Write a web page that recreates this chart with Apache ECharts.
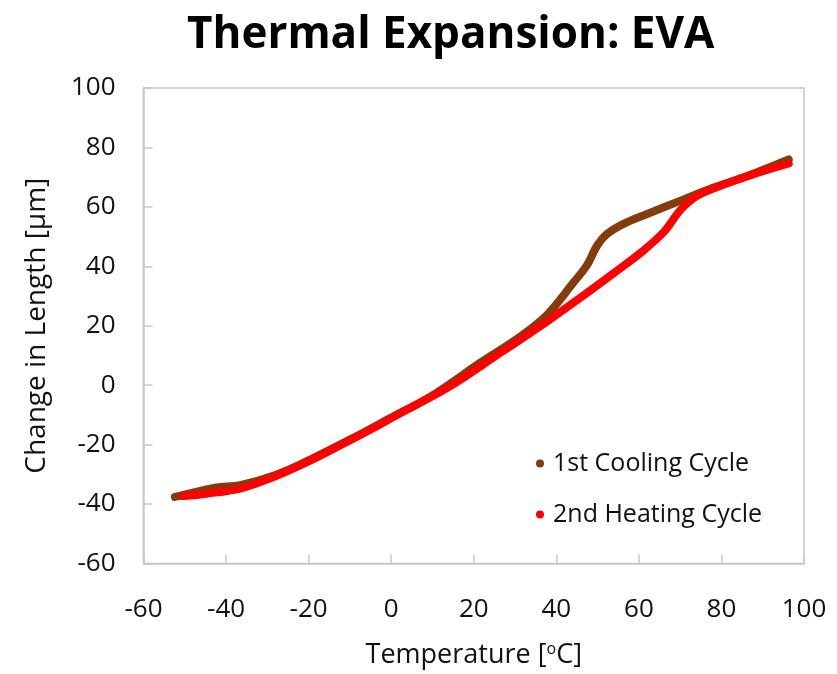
<!DOCTYPE html>
<html>
<head>
<meta charset="utf-8">
<script src="https://cdn.jsdelivr.net/npm/echarts@6/dist/echarts.min.js"></script>
<style>
  html, body { margin: 0; padding: 0; background: #fff; }
  #chart { width: 837px; height: 674px; }
</style>
</head>
<body>
<div id="chart"></div>
<script>
// Dilatometry of EVA: change in sample length vs temperature
const coolingTemp = [-52.4, -47, -42.3, -36.6, -28, -20, -10, 0, 10, 21.6, 31.3, 37.7, 44.2, 47.4, 49.9, 52.3, 56.3, 62.0, 70.1, 78.1, 86.2, 96.3];
const coolingLen  = [-37.6, -35.8, -34.4, -33.6, -30.2, -25.3, -18.3, -10.9, -3.4, 7.6, 16.4, 23.6, 34.6, 40.3, 47.0, 50.9, 54.3, 57.6, 62.1, 66.5, 70.4, 76.0];

const heatingTemp = [-50.4, -44.7, -36.6, -28.5, -20.4, -12.4, -4.3, 1.4, 13.5, 25.6, 37.7, 47.4, 54.5, 60.4, 66.0, 70.1, 74.1, 79.8, 87.8, 96.3];
const heatingLen  = [-37.3, -36.5, -34.8, -30.9, -25.9, -20.3, -14.4, -10.0, -1.0, 10.1, 21.4, 31.0, 38.3, 44.5, 51.5, 59.0, 63.7, 67.1, 71.0, 74.6];

const seriesNames = ['1st Cooling Cycle', '2nd Heating Cycle'];
const seriesColors = ['#843C0C', '#FF0000'];
const axisTicks = [-60, -40, -20, 0, 20, 40, 60, 80, 100];

const pairs = (xs, ys) => xs.map((x, i) => [x, ys[i]]);

const labelFont = '"Open Sans", "Noto Sans", sans-serif';
const chart = echarts.init(document.getElementById('chart'));

const axisCommon = {
  type: 'value',
  min: axisTicks[0],
  max: axisTicks[axisTicks.length - 1],
  interval: 20,
  nameLocation: 'middle',
  axisLine: { show: true, onZero: false, lineStyle: { color: '#c8c8c8', width: 1.5 } },
  axisTick: { show: true, inside: true, length: 9, lineStyle: { color: '#c8c8c8', width: 1.5 } },
  splitLine: { show: false },
  axisLabel: { margin: 28, fontFamily: labelFont, fontSize: 26, color: '#111' }
};

chart.setOption({
  animation: false,
  backgroundColor: '#fff',
  title: {
    text: 'Thermal Expansion: EVA',
    left: 182,
    top: 8,
    textStyle: {
      fontFamily: labelFont,
      fontWeight: 'bold',
      fontSize: 44,
      color: '#000'
    }
  },
  grid: {
    left: 143.5, right: 33, top: 88, bottom: 107,
    show: true, borderColor: '#c8c8c8', borderWidth: 1.5
  },
  legend: {
    data: seriesNames,
    orient: 'vertical',
    left: 531,
    top: 445,
    icon: 'circle',
    itemWidth: 8,
    itemHeight: 8,
    itemGap: 24,
    textStyle: { fontFamily: labelFont, fontSize: 25, lineHeight: 27, color: '#111', padding: [0, 0, 0, 4] }
  },
  xAxis: Object.assign({}, axisCommon, {
    name: 'Temperature [{sup|o}C]',
    nameGap: 92,
    axisLabel: Object.assign({}, axisCommon.axisLabel, { margin: 33 }),
    nameTextStyle: {
      fontFamily: labelFont, fontSize: 27, color: '#111', verticalAlign: 'middle',
      rich: { sup: { fontFamily: labelFont, fontSize: 16, color: '#111', verticalAlign: 'top', padding: [0, 0, 12, 0] } }
    }
  }),
  yAxis: Object.assign({}, axisCommon, {
    name: 'Change in Length [µm]',
    nameGap: 92,
    nameTextStyle: { fontFamily: labelFont, fontSize: 28, color: '#111' }
  }),
  series: [
    {
      name: seriesNames[0],
      type: 'line',
      data: pairs(coolingTemp, coolingLen),
      smooth: 0.35,
      showSymbol: false,
      symbol: 'circle',
      color: seriesColors[0],
      lineStyle: { width: 8, color: seriesColors[0], cap: 'round', join: 'round' },
      z: 2
    },
    {
      name: seriesNames[1],
      type: 'line',
      data: pairs(heatingTemp, heatingLen),
      smooth: 0.35,
      showSymbol: false,
      symbol: 'circle',
      color: seriesColors[1],
      lineStyle: { width: 8, color: seriesColors[1], cap: 'round', join: 'round' },
      z: 3
    }
  ]
});
</script>
</body>
</html>
